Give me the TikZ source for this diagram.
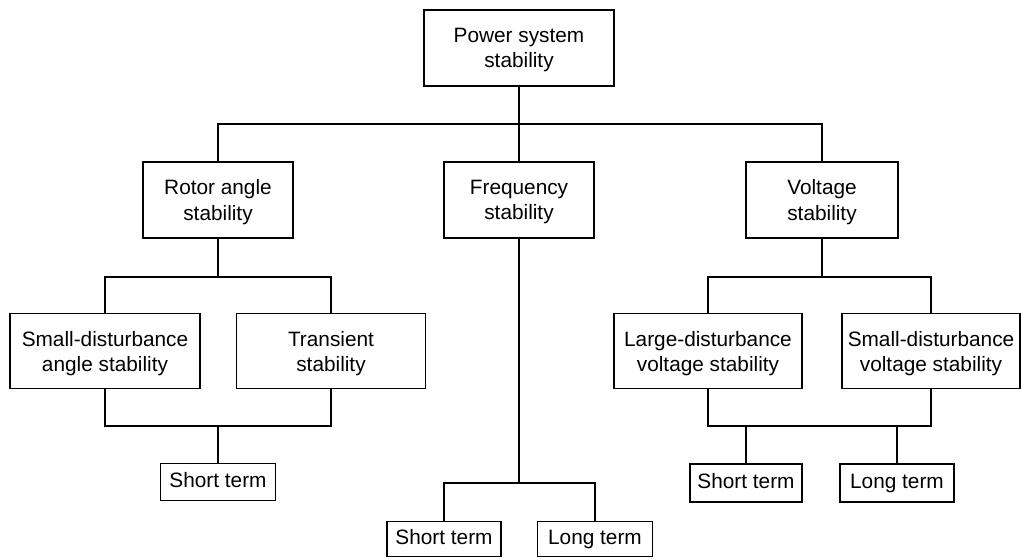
\documentclass[tikz,border=0pt]{standalone}
\usepackage{fontspec}
\setmainfont{Liberation Sans}
\usepackage{tikz}

\begin{document}
\begin{tikzpicture}[x=0.75pt,y=-0.75pt,line width=1.4pt,
  blk/.style 2 args={draw,inner sep=0pt,align=center,
    minimum width=#1*0.75pt,minimum height=#2*0.75pt,
    font=\fontsize{15.6}{18.8}\selectfont,text depth=0pt},
  trm/.style 2 args={blk={#1}{#2},text height=0.85em}]
\useasboundingbox (0,0) rectangle (1021,559);
\node[blk={190}{76}] (root) at (519,48) {Power system\\stability};
\node[blk={150}{76}] (rotor) at (218,200) {Rotor angle\\stability};
\node[blk={150}{76}] (freq) at (519,200) {Frequency\\stability};
\node[blk={152}{76}] (volt) at (822,200) {Voltage\\stability};
\node[blk={190}{75}] (sdangle) at (105,351) {Small-disturbance\\angle stability};
\node[blk={189}{75}] (trans) at (331,351) {Transient\\stability};
\node[blk={188}{75}] (ldv) at (708,351) {Large-disturbance\\voltage stability};
\node[blk={178}{75}] (sdv) at (931,351) {Small-disturbance\\voltage stability};
\node[trm={115}{37}] (shortA) at (218,482) {Short term};
\node[trm={114}{35}] (shortF) at (444,539) {Short term};
\node[trm={115}{35}] (longF) at (595,539) {Long term};
\node[trm={112}{38}] (shortV) at (746,483) {Short term};
\node[trm={114}{38}] (longV) at (897,483) {Long term};
\coordinate (busA) at (519,124);
\coordinate (busB) at (218,277);
\coordinate (busC) at (218,426);
\coordinate (busD) at (519,483);
\coordinate (busE) at (822,277);
\coordinate (busF) at (822,426);
\draw (root.south) -- (freq.north);
\draw (rotor.north) |- (busA) -| (volt.north);
\draw (rotor.south) -- (busB);
\draw (sdangle.north) |- (busB) -| (trans.north);
\draw (sdangle.south) |- (busC) -| (trans.south);
\draw (busC) -- (shortA.north);
\draw (freq.south) -- (busD);
\draw (shortF.north) |- (busD) -| (longF.north);
\draw (volt.south) -- (busE);
\draw (ldv.north) |- (busE) -| (sdv.north);
\draw (ldv.south) |- (busF) -| (sdv.south);
\draw (shortV.north) |- (busF) -| (longV.north);
\end{tikzpicture}
\end{document}
